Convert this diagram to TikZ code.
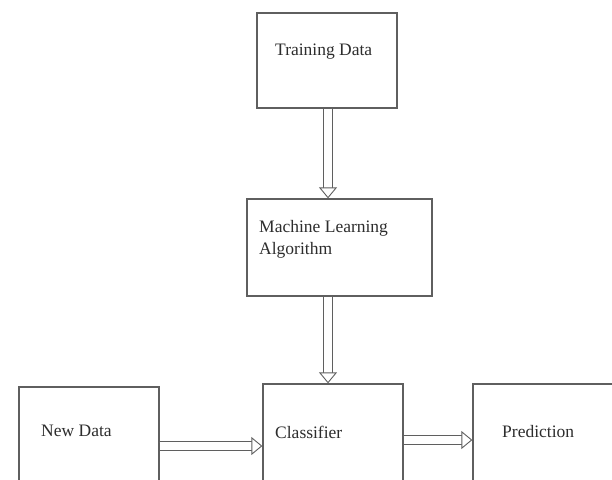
\documentclass[tikz,border=0pt]{standalone}
\usepackage{fontspec}
\setmainfont{Liberation Serif}
\usetikzlibrary{arrows.meta}

\definecolor{boxgray}{RGB}{95,95,95}
\definecolor{txtgray}{RGB}{45,45,45}

\begin{document}
\begin{tikzpicture}[x=1pt,y=-1pt,
	box/.style={draw=boxgray, line width=1.3pt, fill=white, inner sep=0pt},
	lbl/.style={anchor=base west, inner sep=0pt, text=txtgray, font=\fontsize{17.5}{22}\selectfont},
	dbl/.style={draw=boxgray, line width=0.9pt, double=white, double distance=8pt,
		-{Triangle[length=11pt, width=18pt, fill=white, line width=0.9pt]}}]

	\useasboundingbox (0,0) rectangle (612,479);
	\clip (0,0) rectangle (612,479);

	\node[box, minimum width=140pt, minimum height=95pt] (td) at (327,60.5) {};
	\node[box, minimum width=185pt, minimum height=97pt] (ml) at (339.5,247.5) {};
	\node[box, minimum width=140pt, minimum height=110pt] (nd) at (89,442) {};
	\node[box, minimum width=140pt, minimum height=110pt] (cl) at (333,439) {};
	\node[box, minimum width=140pt, minimum height=110pt] (pr) at (543,439) {};

	\node[lbl] (td_t) at (275,55) {Training Data};
	\node[lbl, anchor=north west, align=left] (ml_t) at (259,220) {Machine Learning\\Algorithm};
	\node[lbl] (nd_t) at (41,436) {New Data};
	\node[lbl] (cl_t) at (275,438) {Classifier};
	\node[lbl] (pr_t) at (502,437) {Prediction};

	\draw[dbl] ([xshift=1pt]td.south) -- ([xshift=1pt]td.south |- ml.north);
	\draw[dbl] ([xshift=1pt]td.south |- ml.south) -- ([xshift=1pt]td.south |- cl.north);
	\draw[dbl] ([yshift=-4pt]nd.east) -- ([yshift=-4pt]nd.east -| cl.west);
	\draw[dbl] ([yshift=-1pt]cl.east) -- ([yshift=-1pt]cl.east -| pr.west);

\end{tikzpicture}
\end{document}
